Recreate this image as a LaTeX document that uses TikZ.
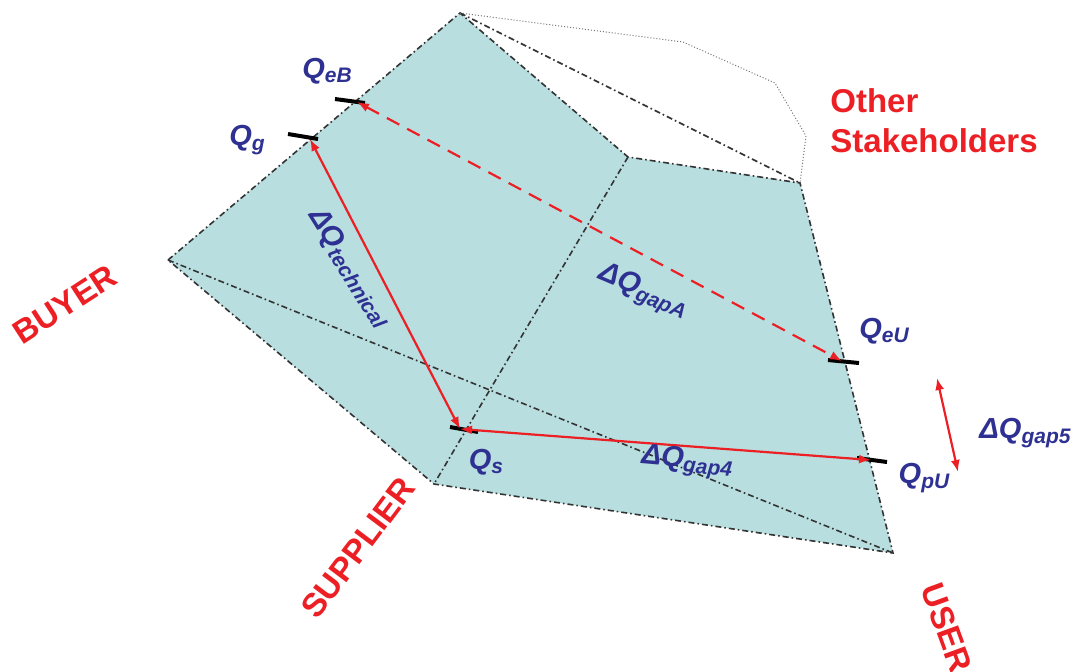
\documentclass[tikz,border=0pt]{standalone}
\usepackage{fontspec}
\setmainfont{Liberation Sans}
\usepackage{xcolor}
\usetikzlibrary{arrows.meta, positioning}
\definecolor{facefill}{RGB}{184,222,224}
\definecolor{qblue}{RGB}{46,49,146}
\definecolor{gapred}{RGB}{236,32,36}
\newcommand{\qsub}[1]{\raisebox{-0.3ex}{\fontsize{10.5}{10.5}\selectfont #1}}

\begin{document}
\begin{tikzpicture}[x=0.5pt, y=-0.5pt, edge/.style={dash pattern=on 3pt off 1.5pt on 0.8pt off 1.5pt, line width=0.8pt, black!80}, hull/.style={densely dotted, line width=0.5pt, black!55}, tick/.style={line width=2pt, black}, gap/.style={{Latex[length=6pt,width=4.5pt]}-{Latex[length=6pt,width=4.5pt]}, gapred, line width=1.1pt}, qlabel/.style={font=\bfseries\itshape\fontsize{14.5}{16}\selectfont, text=qblue, inner sep=0pt}, party/.style={font=\bfseries\fontsize{16.5}{20}\selectfont, text=gapred, inner sep=0pt}]
\useasboundingbox (0,0) rectangle (1081,671);
% corners of the quality faces
\coordinate (top) at (460,13);
\coordinate (buyer) at (168,260);
\coordinate (mid) at (628,157);
\coordinate (other) at (800,183);
\coordinate (supplier) at (434,484);
\coordinate (user) at (893,553);
\coordinate (h1) at (683,42);
\coordinate (h2) at (775,83);
\coordinate (h3) at (806,136);
% faces
\fill[facefill] (buyer) -- (top) -- (mid) -- (other) -- (user) -- (supplier) -- cycle;
\draw[edge] (buyer) -- (top) -- (mid) -- (other) -- (user) -- (supplier) -- cycle;
\draw[edge] (mid) -- (supplier);
\draw[edge] (buyer) -- (user);
\draw[edge] (top) -- (other);
\draw[hull] (top) -- (h1) -- (h2) -- (h3) -- (other);
% quality marks
\coordinate (qeB) at (357,102);
\coordinate (qg) at (310,139);
\coordinate (qs) at (460,429);
\coordinate (qeU) at (842,361);
\coordinate (qpU) at (871,460);
\coordinate (g5top) at (937,378);
\coordinate (g5bot) at (958,472);
\draw[tick] (qeB) ++(-22,-3) -- ++(30,4);
\draw[tick] (qg) ++(-22,-5) -- ++(30,5);
\draw[tick] (qs) ++(-10,-2) -- ++(28,5);
\draw[tick] (qeU) ++(-14,-1) -- ++(31,3);
\draw[tick] (qpU) ++(-14,-2) -- ++(30,4);
% gaps
\draw[gap] (qs) -- (qg);
\draw[gap, dash pattern=on 7pt off 4.5pt] (qeB) -- (qeU);
\draw[gap] (qs) -- (qpU);
\draw[gap] (g5top) -- (g5bot);
% labels
\node[qlabel] (lQeB) at (327,71) {Q\qsub{eB}};
\node[qlabel] (lQg) at (247,140) {Q\qsub{g}};
\node[qlabel] (lQs) at (486,462) {Q\qsub{s}};
\node[qlabel] (lQeU) at (884,331) {Q\qsub{eU}};
\node[qlabel] (lQpU) at (924,478) {Q\qsub{pU}};
\node[qlabel, rotate=-58] (lTech) at (350,268) {ΔQ\qsub{technical}};
\node[qlabel, rotate=-23] (lGapA) at (643,292) {ΔQ\qsub{gapA}};
\node[qlabel, rotate=-5] (lGap4) at (687,462) {ΔQ\qsub{gap4}};
\node[qlabel] (lGap5) at (1025,433) {ΔQ\qsub{gap5}};
\node[party, align=left, anchor=west] (lOther) at (830,121) {Other\\Stakeholders};
\node[party, rotate=33] (lBuyer) at (65,305) {BUYER};
\node[party, rotate=53] (lSupplier) at (358,548) {SUPPLIER};
\node[party, rotate=-70] (lUser) at (947,628) {USER};
\end{tikzpicture}
\end{document}
